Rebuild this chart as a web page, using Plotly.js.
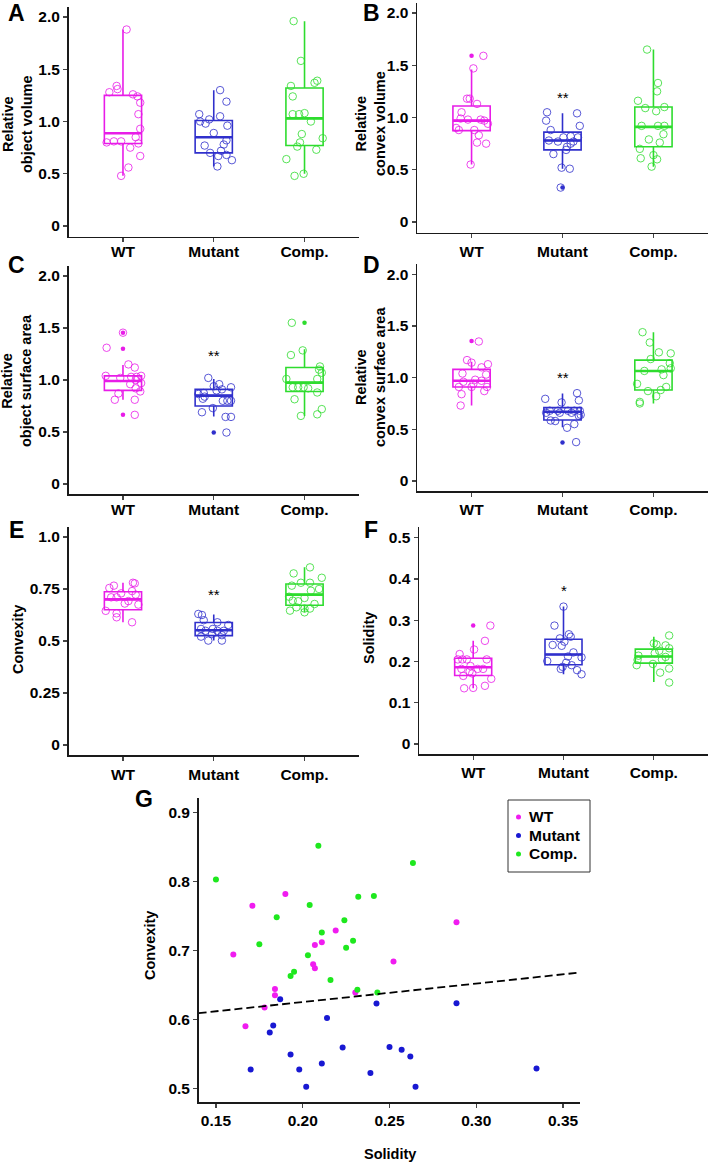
<!DOCTYPE html>
<html>
<head>
<meta charset="utf-8">
<script src="https://cdn.plot.ly/plotly-3.0.1.min.js"></script>
<style>html,body{margin:0;padding:0;background:#fff;}#chart{width:708px;height:1164px;}</style>
</head>
<body>
<div id="chart"></div>
<script>
// ---------------- DATA ----------------
const categories = ['WT', 'Mutant', 'Comp.'];
const legendNames = ['WT', 'Mutant', 'Comp.'];

// Panel A: Relative object volume
const objVolWT = [1.88,1.34,1.31,1.28,1.26,1.24,1.18,1.07,0.93,0.85,0.80,0.81,0.81,0.79,0.75,0.67,0.56,0.48];
const objVolMut = [1.30,1.19,1.07,1.05,1.02,1.00,0.98,0.96,0.89,0.82,0.77,0.78,0.72,0.70,0.67,0.68,0.63,0.57];
const objVolComp = [1.96,1.58,1.34,1.24,1.39,1.37,1.07,1.07,1.08,1.00,0.88,0.84,0.80,0.76,0.73,0.64,0.50,0.48];
const objVolQ1 = [0.79,0.70,0.77], objVolMedian = [0.887,0.85,1.03], objVolQ3 = [1.25,1.01,1.32];
const objVolLower = [0.48,0.57,0.50], objVolUpper = [1.88,1.30,1.96];
const objVolOutliers = [[],[],[]];

// Panel B: Relative convex volume
const cvxVolWT = [1.59,1.47,1.18,1.18,1.13,1.05,0.99,0.98,0.98,0.97,0.94,0.90,0.88,0.88,0.83,0.76,0.75,0.55];
const cvxVolMut = [1.05,1.04,0.97,0.92,0.88,0.78,0.77,0.81,0.82,0.81,0.75,0.72,0.77,0.69,0.65,0.52,0.51,0.33];
const cvxVolComp = [1.65,1.33,1.25,1.16,1.09,1.06,1.10,0.92,0.92,0.92,0.84,0.79,0.76,0.70,0.61,0.64,0.60,0.53];
const cvxVolQ1 = [0.874,0.69,0.72], cvxVolMedian = [0.97,0.78,0.91], cvxVolQ3 = [1.11,0.86,1.10];
const cvxVolLower = [0.55,0.51,0.53], cvxVolUpper = [1.46,1.04,1.65];
const cvxVolOutliers = [[1.59],[0.33],[]];

// Panel C: Relative object surface area
const objSurfWT = [1.455,1.31,1.15,1.12,1.04,1.02,1.03,1.03,1.04,1.00,0.96,0.97,0.92,0.89,0.87,0.81,0.81,0.665];
const objSurfMut = [1.02,0.96,0.94,0.91,0.93,0.90,0.875,0.866,0.84,0.82,0.73,0.80,0.80,0.80,0.69,0.645,0.645,0.495];
const objSurfComp = [1.55,1.285,1.24,1.13,1.10,1.07,1.01,1.01,0.93,0.93,0.93,0.92,0.88,0.815,0.72,0.67,0.655];
const objSurfQ1 = [0.90,0.75,0.89], objSurfMedian = [0.99,0.85,0.975], objSurfQ3 = [1.04,0.91,1.12];
const objSurfLower = [0.81,0.65,0.655], objSurfUpper = [1.145,1.01,1.295];
const objSurfOutliers = [[1.455,1.30,0.665],[0.495],[1.55]];

// Panel D: Relative convex surface area
const cvxSurfWT = [1.35,1.17,1.145,1.13,1.10,1.04,1.03,0.98,0.97,0.96,0.94,0.91,0.91,0.91,0.87,0.84,0.73];
const cvxSurfMut = [0.85,0.795,0.78,0.76,0.68,0.68,0.68,0.68,0.68,0.66,0.66,0.66,0.63,0.64,0.585,0.58,0.55,0.515,0.376];
const cvxSurfComp = [1.44,1.34,1.245,1.235,1.18,1.14,1.09,1.065,1.08,1.025,0.94,0.91,0.88,0.87,0.82,0.765,0.75];
const cvxSurfQ1 = [0.91,0.59,0.88], cvxSurfMedian = [0.97,0.67,1.065], cvxSurfQ3 = [1.08,0.71,1.17];
const cvxSurfLower = [0.73,0.52,0.75], cvxSurfUpper = [1.155,0.846,1.44];
const cvxSurfOutliers = [[1.355],[0.373],[]];

// Panel E: Convexity
const convexWT = [0.766,0.755,0.780,0.777,0.729,0.740,0.71,0.71,0.723,0.645,0.633,0.614,0.68,0.692,0.675,0.59];
const convexMut = [0.63,0.625,0.60,0.59,0.577,0.558,0.558,0.549,0.549,0.549,0.533,0.528,0.521,0.502,0.502];
const convexComp = [0.854,0.825,0.804,0.78,0.78,0.766,0.75,0.742,0.713,0.707,0.694,0.691,0.678,0.646,0.662,0.656,0.656,0.638];
const convexQ1 = [0.65,0.526,0.672], convexMedian = [0.70,0.552,0.723], convexQ3 = [0.737,0.589,0.774];
const convexLower = [0.59,0.502,0.638], convexUpper = [0.78,0.627,0.854];
const convexOutliers = [[],[],[]];

// Panel F: Solidity
const solidWT = [0.287,0.25,0.229,0.218,0.205,0.205,0.205,0.205,0.189,0.182,0.182,0.182,0.176,0.165,0.171,0.158,0.141,0.135,0.136];
const solidMut = [0.333,0.287,0.266,0.260,0.256,0.248,0.24,0.238,0.222,0.201,0.212,0.21,0.197,0.191,0.187,0.182,0.179,0.169];
const solidComp = [0.263,0.244,0.241,0.239,0.232,0.226,0.22,0.214,0.211,0.204,0.205,0.194,0.191,0.183,0.173,0.149];
const solidQ1 = [0.166,0.192,0.196], solidMedian = [0.186,0.217,0.212], solidQ3 = [0.208,0.254,0.23];
const solidLower = [0.135,0.169,0.15], solidUpper = [0.25,0.333,0.26];
const solidOutliers = [[0.287],[],[]];

// Panel G: Convexity vs Solidity
const gSolidWT = [0.190,0.171,0.160,0.219,0.211,0.207,0.206,0.207,0.2523,0.184,0.184,0.178,0.167,0.2303,0.2886];
const gConvexWT = [0.782,0.765,0.694,0.729,0.712,0.708,0.680,0.674,0.684,0.644,0.635,0.617,0.590,0.639,0.741];
const gSolidMut = [0.187,0.183,0.181,0.214,0.2425,0.170,0.193,0.198,0.202,0.211,0.223,0.239,0.250,0.257,0.262,0.265,0.2886,0.3347];
const gConvexMut = [0.629,0.591,0.581,0.602,0.623,0.527,0.549,0.527,0.502,0.536,0.559,0.522,0.560,0.556,0.546,0.502,0.6235,0.5286];
const gSolidComp = [0.150,0.209,0.2635,0.185,0.175,0.204,0.232,0.241,0.224,0.211,0.229,0.225,0.203,0.195,0.193,0.216,0.2315,0.243];
const gConvexComp = [0.803,0.852,0.827,0.748,0.709,0.766,0.778,0.779,0.744,0.726,0.714,0.704,0.693,0.669,0.663,0.657,0.643,0.639];
const fitSolidity = [0.14, 0.36];
const fitConvexity = [0.609, 0.668];

// significance labels (Mutant vs WT) and their heights
const sigLabels = ['', '**', '**', '**', '**', '*'];
const sigHeights = [0, 1.19, 1.24, 1.0, 0.724, 0.373];

// jitter offsets (x displacement in category units)
const jitObjVol = [
 [0.04,-0.07,-0.06,-0.15,0.11,0.16,0.19,0.17,0.19,0.14,-0.18,-0.10,-0.02,0.17,0.08,0.19,0.06,-0.02],
 [0.07,0.14,-0.16,0.07,-0.05,-0.15,-0.09,0.15,0.00,0.14,-0.10,0.11,0.08,-0.04,0.05,0.14,0.20,0.04],
 [-0.12,-0.04,-0.15,-0.13,0.14,0.11,-0.13,-0.06,0.00,0.07,-0.03,0.20,-0.05,-0.08,0.13,-0.20,-0.01,-0.11]];
const jitCvxVol = [
 [0.13,0.02,-0.05,-0.02,0.06,-0.11,-0.12,-0.04,0.10,0.14,0.18,-0.17,-0.14,0.03,0.08,0.06,0.16,-0.01],
 [-0.17,0.16,-0.18,0.19,-0.13,-0.15,-0.05,0.01,0.09,0.17,0.09,0.05,0.12,0.04,-0.10,-0.01,0.08,-0.02],
 [-0.07,0.05,0.04,-0.17,-0.09,0.03,0.12,-0.13,0.05,0.12,0.11,-0.05,0.07,-0.15,-0.14,0.00,0.04,-0.02]];
const jitObjSurf = [
 [0.00,-0.18,0.06,0.13,-0.19,-0.03,0.09,0.15,0.20,0.14,0.08,0.20,0.14,0.19,-0.05,-0.09,0.13,0.13],
 [-0.06,0.06,0.00,0.09,0.19,0.03,-0.11,-0.17,-0.10,-0.12,-0.01,0.10,0.15,0.19,-0.13,0.13,0.19,0.14],
 [-0.14,-0.02,-0.15,0.17,0.16,0.19,-0.20,0.14,-0.13,-0.07,-0.01,0.04,0.14,-0.11,0.19,0.14,-0.04]];
const jitCvxSurf = [
 [0.08,-0.05,0.00,0.18,0.11,-0.10,0.16,0.04,0.11,-0.09,0.02,-0.14,0.00,0.17,0.14,-0.11,-0.12],
 [0.16,-0.19,0.18,-0.01,-0.14,-0.05,0.06,0.13,0.19,-0.18,-0.03,0.10,0.18,0.20,-0.13,-0.08,0.13,0.05,0.15],
 [-0.12,-0.04,0.06,0.19,-0.03,0.18,0.19,-0.10,0.09,0.11,-0.18,0.14,0.08,-0.06,0.03,-0.15,-0.15]];
const jitConvex = [
 [-0.10,-0.15,0.11,0.13,-0.02,0.10,-0.13,-0.07,0.14,-0.19,-0.07,-0.07,0.02,0.06,0.17,0.10],
 [-0.17,-0.13,-0.11,0.04,0.16,-0.14,-0.01,-0.09,0.04,0.11,-0.02,0.09,-0.14,-0.06,0.09],
 [0.06,-0.12,0.19,-0.04,0.06,-0.14,0.16,0.07,-0.17,0.00,-0.13,-0.07,0.11,-0.16,-0.09,0.00,0.06,0.00]];
const jitSolid = [
 [0.19,0.13,0.01,-0.15,-0.17,-0.12,-0.07,0.15,-0.03,-0.13,0.05,0.11,-0.04,-0.11,-0.01,0.20,0.13,-0.10,0.00],
 [0.00,-0.10,0.06,0.08,-0.04,0.01,-0.12,-0.02,0.11,-0.18,0.05,0.20,0.03,0.09,-0.01,-0.03,0.15,0.20],
 [0.17,0.00,0.03,0.13,0.17,0.06,0.01,-0.17,0.13,-0.18,0.09,-0.01,-0.19,0.17,0.07,0.17]];

// ---------------- STYLE ----------------
const FONT = 'Arial, "Liberation Sans", Helvetica, sans-serif';
const boxCol = ['#E81CE8', '#3030CC', '#2EDC2E'];
const ptCol = ['rgba(232,28,232,0.8)', 'rgba(48,48,204,0.8)', 'rgba(46,220,46,0.8)'];
const dotCol = ['#F01CF0', '#1818D2', '#1EE81E'];
const W = 708, H = 1164;
const BOXW = 0.41;

const panels = [
  {id:'', vals:[objVolWT,objVolMut,objVolComp], jit:jitObjVol, q1:objVolQ1, med:objVolMedian, q3:objVolQ3, lo:objVolLower, hi:objVolUpper, out:objVolOutliers,
   xpx:[68.5,359], ypx:[6.5,236.5], yr:[-0.1,2.1], tv:[0,0.5,1,1.5,2], tt:['0','0.5','1.0','1.5','2.0'], so:-4,
   title:'Relative<br>object volume', tx:18, ty:124, letter:'A', lx:16, ly:13},
  {id:'2', vals:[cvxVolWT,cvxVolMut,cvxVolComp], jit:jitCvxVol, q1:cvxVolQ1, med:cvxVolMedian, q3:cvxVolQ3, lo:cvxVolLower, hi:cvxVolUpper, out:cvxVolOutliers,
   xpx:[417,708], ypx:[2.5,232.5], yr:[-0.1,2.1], tv:[0,0.5,1,1.5,2], tt:['0','0.5','1.0','1.5','2.0'], so:0,
   title:'Relative<br>convex volume', tx:371, ty:124, letter:'B', lx:371, ly:13},
  {id:'3', vals:[objSurfWT,objSurfMut,objSurfComp], jit:jitObjSurf, q1:objSurfQ1, med:objSurfMedian, q3:objSurfQ3, lo:objSurfLower, hi:objSurfUpper, out:objSurfOutliers,
   xpx:[68.5,359], ypx:[265.6,494.4], yr:[-0.1,2.1], tv:[0,0.5,1,1.5,2], tt:['0','0.5','1.0','1.5','2.0'], so:-4,
   title:'Relative<br>object surface area', tx:17, ty:381, letter:'C', lx:16, ly:265},
  {id:'4', vals:[cvxSurfWT,cvxSurfMut,cvxSurfComp], jit:jitCvxSurf, q1:cvxSurfQ1, med:cvxSurfMedian, q3:cvxSurfQ3, lo:cvxSurfLower, hi:cvxSurfUpper, out:cvxSurfOutliers,
   xpx:[417,708], ypx:[264,491.3], yr:[-0.1,2.1], tv:[0,0.5,1,1.5,2], tt:['0','0.5','1.0','1.5','2.0'], so:0,
   title:'Relative<br>convex surface area', tx:371, ty:377, letter:'D', lx:371, ly:265},
  {id:'5', vals:[convexWT,convexMut,convexComp], jit:jitConvex, q1:convexQ1, med:convexMedian, q3:convexQ3, lo:convexLower, hi:convexUpper, out:convexOutliers,
   xpx:[68.5,359], ypx:[526.6,755.4], yr:[-0.05,1.05], tv:[0,0.25,0.5,0.75,1], tt:['0','0.25','0.5','0.75','1.0'], so:0,
   title:'Convexity', tx:18, ty:640, letter:'E', lx:16, ly:530},
  {id:'6', vals:[solidWT,solidMut,solidComp], jit:jitSolid, q1:solidQ1, med:solidMedian, q3:solidQ3, lo:solidLower, hi:solidUpper, out:solidOutliers,
   xpx:[419,708], ypx:[527.4,754.3], yr:[-0.025,0.525], tv:[0,0.1,0.2,0.3,0.4,0.5], tt:['0','0.1','0.2','0.3','0.4','0.5'], so:0,
   title:'Solidity', tx:369, ty:638, letter:'F', lx:371, ly:530}
];

const traces = [];
const layout = {
  width: W, height: H, margin:{l:0,r:0,t:0,b:0}, showlegend:false,
  paper_bgcolor:'#fff', plot_bgcolor:'rgba(0,0,0,0)',
  font:{family:FONT, color:'#000'}, annotations:[], shapes:[]
};

function axisBase(){
  return {showline:true, linecolor:'#1a1a1a', linewidth:1.5, ticks:'outside', ticklen:4, tickwidth:1.2, tickcolor:'#444',
    showgrid:false, zeroline:false, fixedrange:true,
    tickfont:{family:FONT, size:15.5, color:'#000', weight:'bold'}};
}
const dx = px => px / W;
const dy = py => 1 - py / H;

panels.forEach((p, k) => {
  const xa = 'x' + p.id, ya = 'y' + p.id;
  layout['xaxis' + p.id] = Object.assign(axisBase(), {
    domain:[dx(p.xpx[0]), dx(p.xpx[1])], range:[0.4, 3.6], anchor:ya,
    tickmode:'array', tickvals:[1,2,3], ticktext:categories, ticklabelstandoff:p.so
  });
  layout['yaxis' + p.id] = Object.assign(axisBase(), {
    domain:[dy(p.ypx[1]), dy(p.ypx[0])], range:p.yr, anchor:xa,
    tickmode:'array', tickvals:p.tv, ticktext:p.tt
  });
  for (let g = 0; g < 3; g++) {
    traces.push({type:'box', x:[g+1], q1:[p.q1[g]], median:[p.med[g]], q3:[p.q3[g]],
      lowerfence:[p.lo[g]], upperfence:[p.hi[g]], xaxis:xa, yaxis:ya, width:BOXW, whiskerwidth:0,
      boxpoints:false, line:{color:boxCol[g], width:1.6}, fillcolor:'rgba(0,0,0,0)', hoverinfo:'skip', showlegend:false});
    // thicker median bar
    traces.push({type:'scatter', mode:'lines', x:[g+1-BOXW/2, g+1+BOXW/2], y:[p.med[g], p.med[g]],
      xaxis:xa, yaxis:ya, line:{color:boxCol[g], width:2.6}, hoverinfo:'skip', showlegend:false});
    traces.push({type:'scatter', mode:'markers', x:p.vals[g].map((v,i)=>g+1+p.jit[g][i]), y:p.vals[g],
      xaxis:xa, yaxis:ya, marker:{symbol:'circle-open', size:7.5, color:ptCol[g], line:{width:1}},
      hoverinfo:'skip', showlegend:false});
    if (p.out[g].length) {
      traces.push({type:'scatter', mode:'markers', x:p.out[g].map(()=>g+1), y:p.out[g],
        xaxis:xa, yaxis:ya, marker:{symbol:'circle', size:4.5, color:boxCol[g]}, hoverinfo:'skip', showlegend:false});
    }
  }
  if (sigLabels[k]) {
    layout.annotations.push({xref:xa, yref:ya, x:2, y:sigHeights[k], text:sigLabels[k], showarrow:false,
      font:{family:FONT, size:15, color:'#000'}, xanchor:'center', yanchor:'middle'});
  }
  layout.annotations.push({xref:'paper', yref:'paper', x:dx(p.tx), y:dy(p.ty), text:p.title, textangle:-90,
    showarrow:false, xanchor:'center', yanchor:'middle', align:'center',
    font:{family:FONT, size:14.5, color:'#000', weight:'bold'}});
  layout.annotations.push({xref:'paper', yref:'paper', x:dx(p.lx), y:dy(p.ly), text:p.letter,
    showarrow:false, xanchor:'center', yanchor:'middle', font:{family:FONT, size:23, color:'#000', weight:'bold'}});
});

// Panel G
layout.xaxis7 = Object.assign(axisBase(), {domain:[dx(198.6), dx(580.4)], range:[0.14,0.36], anchor:'y7',
  tickmode:'array', tickvals:[0.15,0.20,0.25,0.30,0.35], ticktext:['0.15','0.20','0.25','0.30','0.35']});
layout.yaxis7 = Object.assign(axisBase(), {domain:[dy(1102), dy(797.5)], range:[0.48,0.922], anchor:'x7',
  tickmode:'array', tickvals:[0.5,0.6,0.7,0.8,0.9], ticktext:['0.5','0.6','0.7','0.8','0.9']});
const gSets = [[gSolidWT,gConvexWT],[gSolidMut,gConvexMut],[gSolidComp,gConvexComp]];
gSets.forEach((s,g) => {
  traces.push({type:'scatter', mode:'markers', x:s[0], y:s[1], xaxis:'x7', yaxis:'y7', name:legendNames[g],
    marker:{symbol:'circle', size:6, color:dotCol[g]}, hoverinfo:'skip', showlegend:false});
});
traces.push({type:'scatter', mode:'lines', x:fitSolidity, y:fitConvexity, xaxis:'x7', yaxis:'y7',
  line:{color:'#000', width:1.8, dash:'8px,4px'}, hoverinfo:'skip', showlegend:false});
layout.annotations.push({xref:'paper', yref:'paper', x:dx(150), y:dy(946), text:'Convexity', textangle:-90,
  showarrow:false, xanchor:'center', yanchor:'middle', font:{family:FONT, size:14.5, color:'#000', weight:'bold'}});
layout.annotations.push({xref:'paper', yref:'paper', x:dx(390), y:dy(1154), text:'Solidity',
  showarrow:false, xanchor:'center', yanchor:'middle', font:{family:FONT, size:14.5, color:'#000', weight:'bold'}});
layout.annotations.push({xref:'paper', yref:'paper', x:dx(144), y:dy(799), text:'G',
  showarrow:false, xanchor:'center', yanchor:'middle', font:{family:FONT, size:23, color:'#000', weight:'bold'}});

// manual legend for panel G
layout.shapes.push({type:'rect', xref:'paper', yref:'paper', x0:dx(508), x1:dx(590), y0:dy(872), y1:dy(800),
  line:{color:'#333', width:1}, fillcolor:'rgba(0,0,0,0)'});
legendNames.forEach((nm,g) => {
  const cy = 817 + g*18.5;
  layout.shapes.push({type:'circle', xref:'paper', yref:'paper', x0:dx(516), x1:dx(521), y0:dy(cy+2.5), y1:dy(cy-2.5),
    fillcolor:dotCol[g], line:{width:0}});
  layout.annotations.push({xref:'paper', yref:'paper', x:dx(527), y:dy(cy), text:nm, showarrow:false,
    xanchor:'left', yanchor:'middle', font:{family:FONT, size:15.5, color:'#000', weight:'bold'}});
});

Plotly.newPlot('chart', traces, layout, {staticPlot:true, displayModeBar:false});
</script>
</body>
</html>
